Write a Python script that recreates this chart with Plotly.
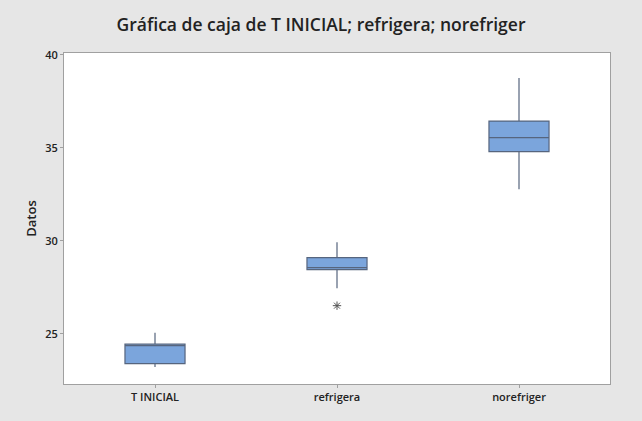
import plotly.graph_objects as go

categories = ["T INICIAL", "refrigera", "norefriger"]
lower_whisker = [23.23, 27.46, 32.78]
q1_vals = [23.40, 28.46, 34.80]
median_vals = [24.37, 28.56, 35.55]
q3_vals = [24.45, 29.10, 36.44]
upper_whisker = [25.07, 29.93, 38.75]
outlier_cat = ["refrigera"]
outlier_vals = [26.52]
y_ticks = [25, 30, 35, 40]

fig = go.Figure()
fig.add_trace(go.Box(
    x=categories,
    q1=q1_vals, median=median_vals, q3=q3_vals,
    lowerfence=lower_whisker, upperfence=upper_whisker,
    fillcolor="#7BA5DC",
    line=dict(color="#56657E", width=1.2),
    whiskerwidth=0,
    width=0.33,
    boxpoints=False,
    hoverinfo="skip",
    showlegend=False,
))
fig.add_trace(go.Scatter(
    x=outlier_cat, y=outlier_vals, mode="markers",
    marker=dict(symbol="asterisk-open", size=7, color="#555555", line=dict(width=1, color="#555555")),
    showlegend=False,
))

font_family = "Open Sans, Noto Sans, sans-serif"
fig.update_layout(
    width=642, height=421,
    margin=dict(l=64, r=32, t=53, b=37),
    paper_bgcolor="#E6E6E6",
    plot_bgcolor="white",
    font=dict(family=font_family, color="#222222"),
    title=dict(text="Gráfica de caja de T INICIAL; refrigera; norefriger",
               x=0.5, xanchor="center", y=0.94, yanchor="middle",
               font=dict(size=17.5, family=font_family, color="#222222", weight=600)),
)
fig.update_xaxes(
    type="category", categoryorder="array", categoryarray=categories,
    range=[-0.5, 2.5],
    showline=True, linecolor="#A0A0A0", mirror=True, linewidth=1,
    ticks="outside", ticklen=3, tickcolor="#A0A0A0",
    showgrid=False, tickfont=dict(size=11, weight=600),
)
fig.update_yaxes(
    range=[22.31, 40.1], tickvals=y_ticks,
    showline=True, linecolor="#A0A0A0", mirror=True, linewidth=1,
    ticks="outside", ticklen=3, tickcolor="#A0A0A0",
    showgrid=False, zeroline=False, tickfont=dict(size=11, weight=600),
    title=dict(text="Datos", font=dict(size=13, weight=600), standoff=5),
)
fig.write_html("out.html")
